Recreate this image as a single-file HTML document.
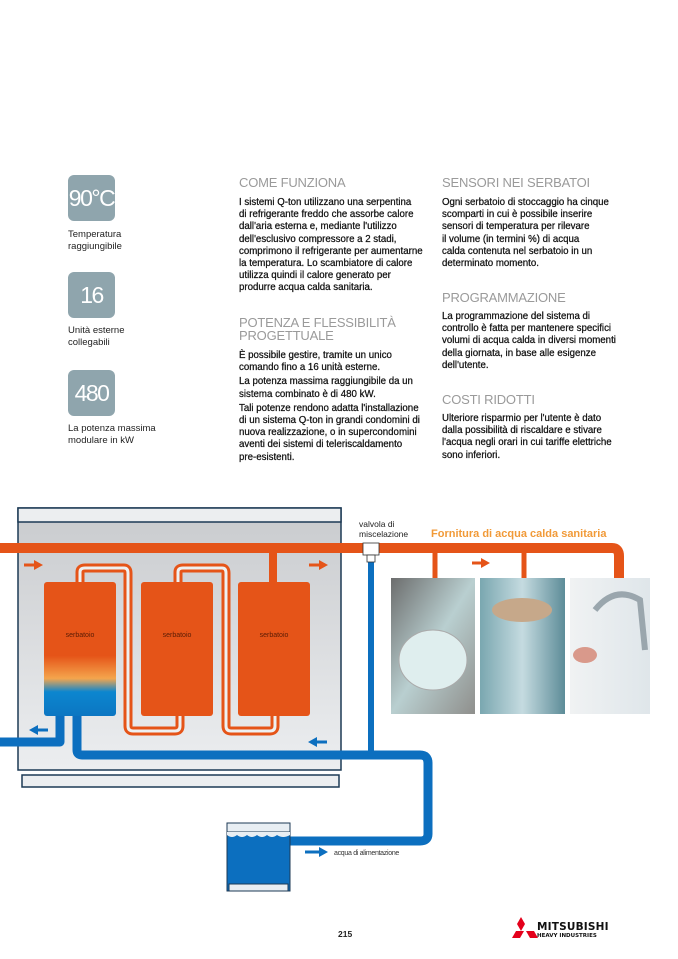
<!DOCTYPE html>
<html><head><meta charset="utf-8"><style>
body{margin:0;width:678px;height:959px;background:#fff;position:relative;overflow:hidden;font-family:"Liberation Sans",sans-serif}
.a{position:absolute}
.badge{position:absolute;left:68px;width:47px;height:46px;background:#8fa5ad;border-radius:6px;color:#fff;font-size:23px;text-align:center;line-height:46px;letter-spacing:-1.5px}
.lab{position:absolute;left:68px;font-size:9.5px;line-height:12px;color:#222}
.h{position:absolute;font-size:13px;color:#9a9a9a;line-height:13px;letter-spacing:-0.2px}
.p{position:absolute;font-size:9.7px;line-height:12.2px;color:#111;letter-spacing:0px;-webkit-text-stroke:0.25px #111}
.p div{margin-bottom:2px}
</style></head><body>
<div class="badge" style="top:175px">90°C</div>
<div class="lab" style="top:229px">Temperatura<br>raggiungibile</div>
<div class="badge" style="top:272px">16</div>
<div class="lab" style="top:325px">Unità esterne<br>collegabili</div>
<div class="badge" style="top:370px">480</div>
<div class="lab" style="top:423px">La potenza massima<br>modulare in kW</div>

<div class="h" style="left:239px;top:176px">COME FUNZIONA</div>
<div class="p" style="left:239px;top:197px;width:205px">I sistemi Q-ton utilizzano una serpentina<br>di refrigerante freddo che assorbe calore<br>dall'aria esterna e, mediante l'utilizzo<br>dell'esclusivo compressore a 2 stadi,<br>comprimono il refrigerante per aumentarne<br>la temperatura. Lo scambiatore di calore<br>utilizza quindi il calore generato per<br>produrre acqua calda sanitaria.</div>
<div class="h" style="left:239px;top:316px">POTENZA E FLESSIBILITÀ<br>PROGETTUALE</div>
<div class="p" style="left:239px;top:350px;width:205px"><div>È possibile gestire, tramite un unico<br>comando fino a 16 unità esterne.</div><div>La potenza massima raggiungibile da un<br>sistema combinato è di 480 kW.</div><div>Tali potenze rendono adatta l'installazione<br>di un sistema Q-ton in grandi condomini di<br>nuova realizzazione, o in supercondomini<br>aventi dei sistemi di teleriscaldamento<br>pre-esistenti.</div></div>

<div class="h" style="left:442px;top:176px">SENSORI NEI SERBATOI</div>
<div class="p" style="left:442px;top:197px;width:215px">Ogni serbatoio di stoccaggio ha cinque<br>scomparti in cui è possibile inserire<br>sensori di temperatura per rilevare<br>il volume (in termini %) di acqua<br>calda contenuta nel serbatoio in un<br>determinato momento.</div>
<div class="h" style="left:442px;top:291px">PROGRAMMAZIONE</div>
<div class="p" style="left:442px;top:311px;width:215px">La programmazione del sistema di<br>controllo è fatta per mantenere specifici<br>volumi di acqua calda in diversi momenti<br>della giornata, in base alle esigenze<br>dell'utente.</div>
<div class="h" style="left:442px;top:393px">COSTI RIDOTTI</div>
<div class="p" style="left:442px;top:413px;width:220px">Ulteriore risparmio per l'utente è dato<br>dalla possibilità di riscaldare e stivare<br>l'acqua negli orari in cui tariffe elettriche<br>sono inferiori.</div>

<svg class="a" style="left:0;top:0" width="678" height="959">
<defs>
<linearGradient id="bg" x1="0" y1="0" x2="0" y2="1"><stop offset="0" stop-color="#c9cbce"/><stop offset="1" stop-color="#eceef0"/></linearGradient>
<linearGradient id="t1" x1="0" y1="0" x2="0" y2="1"><stop offset="0" stop-color="#e55418"/><stop offset="0.55" stop-color="#e55418"/><stop offset="0.72" stop-color="#f4a54d"/><stop offset="0.82" stop-color="#0c86cf"/><stop offset="1" stop-color="#0c76c2"/></linearGradient>
<linearGradient id="ph1" x1="0" y1="0" x2="1" y2="1"><stop offset="0" stop-color="#6c6d6d"/><stop offset="0.5" stop-color="#b9cfd0"/><stop offset="1" stop-color="#8f8f8c"/></linearGradient>
<linearGradient id="ph2" x1="0" y1="0" x2="1" y2="0"><stop offset="0" stop-color="#7aa7b0"/><stop offset="0.5" stop-color="#c5dbe0"/><stop offset="1" stop-color="#5d8c98"/></linearGradient>
<linearGradient id="ph3" x1="0" y1="0" x2="1" y2="0"><stop offset="0" stop-color="#f0f2f3"/><stop offset="1" stop-color="#dfe6ea"/></linearGradient>
</defs>
<rect x="18" y="508" width="323" height="262" fill="url(#bg)" stroke="#1d3a55" stroke-width="1.5"/>
<rect x="18" y="508" width="323" height="14" fill="#eceef0" stroke="#1d3a55" stroke-width="1.5"/>
<rect x="22" y="775" width="317" height="12" fill="#eceef0" stroke="#1d3a55" stroke-width="1.5"/>
<g fill="none" stroke-linejoin="round">
<path d="M60 715 V742 H0" stroke="#0c6fbf" stroke-width="9"/>
<path d="M77 715 V750 Q77 755 82 755 H420 Q428 755 428 763 V834 Q428 841 420 841 H290" stroke="#0c6fbf" stroke-width="9"/>
<path d="M371 560 V755" stroke="#0c6fbf" stroke-width="6"/>
<path d="M80 585 V572 Q80 568 85 568 H124 Q128 568 128 573 V726 Q128 731 133 731 H175 Q180 731 180 726 V716" stroke="#e55418" stroke-width="9"/>
<path d="M80 585 V572 Q80 568 85 568 H124 Q128 568 128 573 V726 Q128 731 133 731 H175 Q180 731 180 726 V716" stroke="#eef0f1" stroke-width="3"/>
<path d="M178 585 V572 Q178 568 183 568 H222 Q226 568 226 573 V726 Q226 731 231 731 H270 Q275 731 275 726 V716" stroke="#e55418" stroke-width="9"/>
<path d="M178 585 V572 Q178 568 183 568 H222 Q226 568 226 573 V726 Q226 731 231 731 H270 Q275 731 275 726 V716" stroke="#eef0f1" stroke-width="3"/>
<path d="M273 548 V585" stroke="#e55418" stroke-width="8"/>
<path d="M0 548 H612 Q619 548 619 556 V580" stroke="#e55418" stroke-width="10"/>
<path d="M435 548 V580 M524 548 V580" stroke="#e55418" stroke-width="5"/>
</g>
<rect x="363" y="543" width="16" height="12" fill="#fff" stroke="#333" stroke-width="0.8"/>
<rect x="367" y="555" width="8" height="7" fill="#fff" stroke="#333" stroke-width="0.8"/>
<rect x="44" y="582" width="72" height="134" rx="3" fill="url(#t1)"/>
<rect x="141" y="582" width="72" height="134" rx="3" fill="#e55418"/>
<rect x="238" y="582" width="72" height="134" rx="3" fill="#e55418"/>
<g font-size="7" fill="#5a1c05" text-anchor="middle" font-family="Liberation Sans"><text x="80" y="637">serbatoio</text><text x="177" y="637">serbatoio</text><text x="274" y="637">serbatoio</text></g>
<g fill="#e55418"><path d="M24 563.5 h10 v-3.5 l9 5 l-9 5 v-3.5 h-10z"/><path d="M309 563.5 h10 v-3.5 l9 5 l-9 5 v-3.5 h-10z"/><path d="M472 561.5 h9 v-3.5 l9 5 l-9 5 v-3.5 h-9z"/></g>
<g fill="#0c6fbf"><path d="M48 728.5 h-10 v-3.5 l-9 5 l9 5 v-3.5 h10z"/><path d="M327 740.5 h-10 v-3.5 l-9 5 l9 5 v-3.5 h10z"/><path d="M305 850.5 h14 v-3.5 l9 5 l-9 5 v-3.5 h-14z"/></g>
<rect x="391" y="578" width="84" height="136" fill="url(#ph1)"/>
<ellipse cx="433" cy="660" rx="34" ry="30" fill="#dfeeee" stroke="#aaa"/>
<rect x="480" y="578" width="85" height="136" fill="url(#ph2)"/>
<ellipse cx="522" cy="610" rx="30" ry="12" fill="#c6a88a"/>
<rect x="570" y="578" width="80" height="136" fill="url(#ph3)"/>
<path d="M595 610 Q615 585 640 600 L645 650" stroke="#9aa6ad" stroke-width="6" fill="none"/>
<ellipse cx="585" cy="655" rx="12" ry="8" fill="#d9998b"/>
<text x="359" y="527" font-size="8.5" fill="#222">valvola di</text>
<text x="359" y="537" font-size="8.5" fill="#222">miscelazione</text>
<text x="431" y="537" font-size="11" font-weight="bold" fill="#f19a38">Fornitura di acqua calda sanitaria</text>
<rect x="227" y="823" width="63" height="68" fill="#0c6fbf" stroke="#1d3a55" stroke-width="1"/>
<rect x="227" y="823" width="63" height="9" fill="#e8eef3" stroke="#1d3a55" stroke-width="1"/>
<path d="M227 835 q5 4 10 0 q5 4 10 0 q5 4 10 0 q5 4 10 0 q5 4 10 0 q6 4 13 0 v-3 h-63z" fill="#e8eef3"/>
<rect x="229" y="884" width="59" height="7" fill="#e8eef3" stroke="#1d3a55" stroke-width="1"/>
<text x="334" y="855" font-size="7" fill="#333" letter-spacing="-0.3">acqua di alimentazione</text>
<text x="338" y="937" font-size="8.5" font-weight="bold" fill="#222">215</text>
<g fill="#e4001b"><path d="M521 917 l4 7 l-4 7 l-4 -7z"/><path d="M516 931 l8 0 l-4 7 l-8 0z"/><path d="M526 931 l8 0 l4 7 l-8 0z"/></g>
<text x="537" y="930" font-size="10.5" font-weight="bold" fill="#111" font-family="DejaVu Sans" letter-spacing="0.2">MITSUBISHI</text>
<text x="537" y="937" font-size="5.5" font-weight="bold" fill="#111" font-family="DejaVu Sans">HEAVY INDUSTRIES</text>
</svg>
</body></html>
